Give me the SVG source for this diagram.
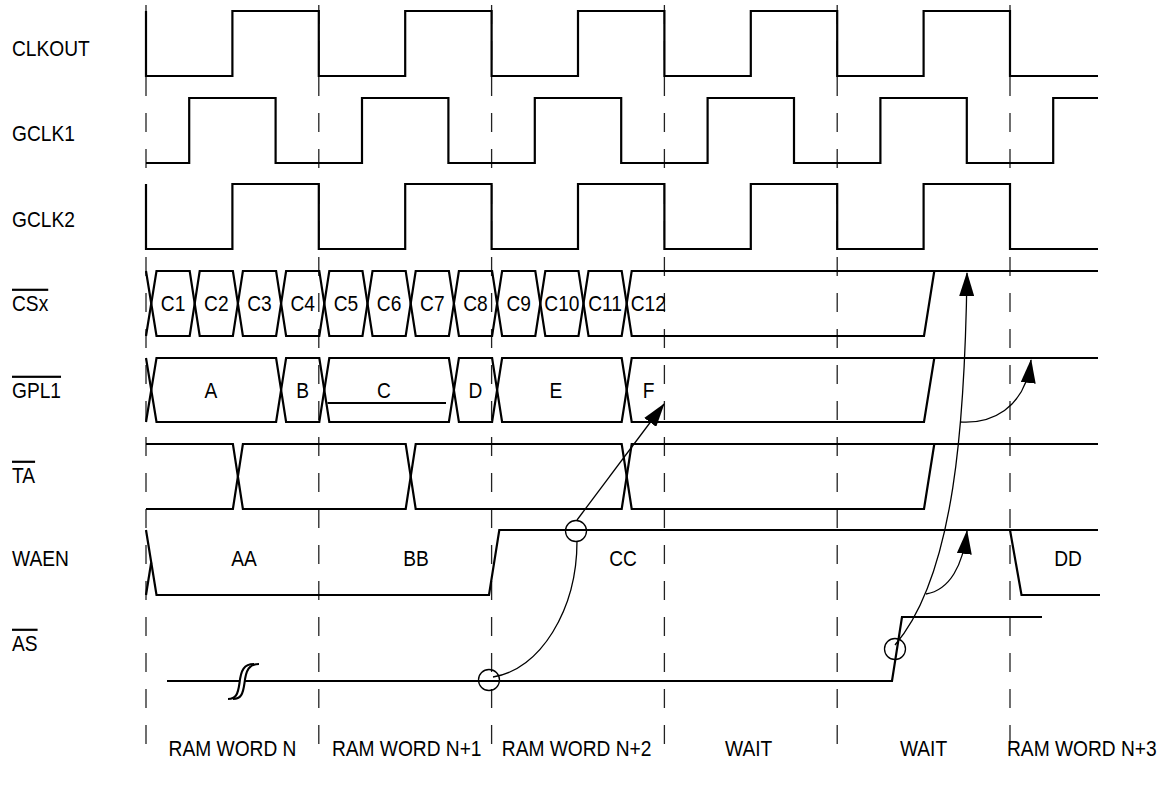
<svg xmlns="http://www.w3.org/2000/svg" width="1169" height="785" viewBox="0 0 1169 785">
<style>
.w{fill:none;stroke:#000;stroke-width:2.2;stroke-linejoin:miter}
.g{stroke:#222;stroke-width:1.3;stroke-dasharray:19 17;fill:none}
.t{font-family:"Liberation Sans",Arial,Helvetica,sans-serif;font-size:21.8px;fill:#000}
.m{text-anchor:middle}
.o{text-decoration:overline}
.c{fill:none;stroke:#000;stroke-width:1.3}
.b{fill:none;stroke:#000;stroke-width:2.1}
</style>
<defs>
<marker id="ah" markerUnits="userSpaceOnUse" markerWidth="24" markerHeight="15" viewBox="0 0 24 15" refX="23" refY="7.5" orient="auto"><path d="M0,0 L24,7.5 L0,15 z" fill="#000"/></marker>
</defs>
<rect width="1169" height="785" fill="#fff"/>

<g id="gridlines">
<line class="g" x1="146" y1="5" x2="146" y2="752"/>
<line class="g" x1="318.8" y1="5" x2="318.8" y2="752"/>
<line class="g" x1="491.6" y1="5" x2="491.6" y2="752"/>
<line class="g" x1="664.4" y1="5" x2="664.4" y2="752"/>
<line class="g" x1="837.2" y1="5" x2="837.2" y2="752"/>
<line class="g" x1="1010" y1="5" x2="1010" y2="752"/>
</g>

<g id="clkout">
<text class="t" transform="translate(12 56) scale(.88 1)">CLKOUT</text>
<path class="w" d="M146,11 V76 H232.4 V11 H318.8 V76 H405.2 V11 H491.6 V76 H578 V11 H664.4 V76 H750.8 V11 H837.2 V76 H923.6 V11 H1010 V76 H1098"/>
</g>

<g id="gclk1">
<text class="t" transform="translate(12 141) scale(.88 1)">GCLK1</text>
<path class="w" d="M146,163 H189.2 V98 H275.6 V163 H362 V98 H448.4 V163 H534.8 V98 H621.2 V163 H707.6 V98 H794 V163 H880.4 V98 H966.8 V163 H1053.2 V98 H1098"/>
</g>

<g id="gclk2">
<text class="t" transform="translate(12 227) scale(.88 1)">GCLK2</text>
<path class="w" d="M146,184 V249 H232.4 V184 H318.8 V249 H405.2 V184 H491.6 V249 H578 V184 H664.4 V249 H750.8 V184 H837.2 V249 H923.6 V184 H1010 V249 H1098"/>
</g>

<g id="csx">
<text class="t o" transform="translate(12 311) scale(.88 1)">CSx</text>
<path class="w" d="M146,271 L156.5,336 H189.7 L199.7,271 H232.9 L242.9,336 H276.1 L286.1,271 H319.3 L329.3,336 H362.5 L372.5,271 H405.7 L415.7,336 H448.9 L458.9,271 H492.1 L502.1,336 H535.3 L545.3,271 H578.5 L588.5,336 H621.7 L631.7,271 H1098"/>
<path class="w" d="M146,336 L156.5,271 H189.7 L199.7,336 H232.9 L242.9,271 H276.1 L286.1,336 H319.3 L329.3,271 H362.5 L372.5,336 H405.7 L415.7,271 H448.9 L458.9,336 H492.1 L502.1,271 H535.3 L545.3,336 H578.5 L588.5,271 H621.7 L631.7,336 H924 L934.3,271"/>
<text class="t m" transform="translate(173.1 311) scale(.88 1)">C1</text>
<text class="t m" transform="translate(216.3 311) scale(.88 1)">C2</text>
<text class="t m" transform="translate(259.5 311) scale(.88 1)">C3</text>
<text class="t m" transform="translate(302.7 311) scale(.88 1)">C4</text>
<text class="t m" transform="translate(345.9 311) scale(.88 1)">C5</text>
<text class="t m" transform="translate(389.1 311) scale(.88 1)">C6</text>
<text class="t m" transform="translate(432.3 311) scale(.88 1)">C7</text>
<text class="t m" transform="translate(475.5 311) scale(.88 1)">C8</text>
<text class="t m" transform="translate(518.7 311) scale(.88 1)">C9</text>
<text class="t m" transform="translate(561.9 311) scale(.88 1)">C10</text>
<text class="t m" transform="translate(605.1 311) scale(.88 1)">C11</text>
<text class="t m" transform="translate(648.3 311) scale(.88 1)">C12</text>
</g>

<g id="gpl1">
<text class="t o" transform="translate(12 398) scale(.88 1)">GPL1</text>
<path class="w" d="M146,358 L156.5,422 H276.1 L286.1,358 H319.3 L329.3,422 H448.9 L458.9,358 H492.1 L502.1,422 H621.7 L631.7,358 H1098"/>
<path class="w" d="M146,422 L156.5,358 H276.1 L286.1,422 H319.3 L329.3,358 H448.9 L458.9,422 H492.1 L502.1,358 H621.7 L631.7,422 H924 L934.3,358"/>
<path class="w" d="M327.5,403 H446"/>
<text class="t m" transform="translate(211 398) scale(.88 1)">A</text>
<text class="t m" transform="translate(302.7 398) scale(.88 1)">B</text>
<text class="t m" transform="translate(384 398) scale(.88 1)">C</text>
<text class="t m" transform="translate(475.5 398) scale(.88 1)">D</text>
<text class="t m" transform="translate(556 398) scale(.88 1)">E</text>
<text class="t m" transform="translate(648.6 398) scale(.88 1)">F</text>
</g>

<g id="ta">
<text class="t o" transform="translate(12 483) scale(.88 1)">TA</text>
<path class="w" d="M146,444 H232.9 L242.9,509 H405.7 L415.7,444 H621.7 L631.7,509 H924 L934.3,444"/>
<path class="w" d="M146,509 H232.9 L242.9,444 H405.7 L415.7,509 H621.7 L631.7,444 H1098"/>
</g>

<g id="waen">
<text class="t" transform="translate(12 566) scale(.88 1)">WAEN</text>
<path class="w" d="M146,530 L156.5,595 H489 L499.3,530 H1098"/>
<path class="w" d="M146,595 L151.2,562.5"/>
<path class="w" d="M1010,530 L1021.5,595 H1100"/>
<text class="t m" transform="translate(244 566) scale(.88 1)">AA</text>
<text class="t m" transform="translate(416 566) scale(.88 1)">BB</text>
<text class="t m" transform="translate(623 566) scale(.88 1)">CC</text>
<text class="t m" transform="translate(1068 566) scale(.88 1)">DD</text>
</g>

<g id="as">
<text class="t o" transform="translate(12 651) scale(.88 1)">AS</text>
<path class="w" d="M167,681 H239"/>
<path class="w" d="M244,681 H892 L902,617 H1042"/>
<path class="b" d="M228,699 C236,699 238,694 239.5,683 C241,670 244,664 254,664"/>
<path class="b" d="M233,699 C241,699 243,694 244.5,683 C246,670 249,664 259,664"/>
</g>

<g id="phases">
<text class="t m" transform="translate(232.5 756) scale(.88 1)">RAM WORD N</text>
<text class="t m" transform="translate(406.7 756) scale(.88 1)">RAM WORD N+1</text>
<text class="t m" transform="translate(576.6 756) scale(.88 1)">RAM WORD N+2</text>
<text class="t m" transform="translate(748.7 756) scale(.88 1)">WAIT</text>
<text class="t m" transform="translate(923.5 756) scale(.88 1)">WAIT</text>
<text class="t" transform="translate(1007 756) scale(.88 1)">RAM WORD N+3</text>
</g>

<g id="connectors">
<circle class="c" cx="489" cy="680" r="10.5"/>
<circle class="c" cx="576" cy="531" r="10.5"/>
<circle class="c" cx="895" cy="649" r="10.5"/>
<path class="c" d="M493,677 C540,670 577,610 577,541"/>
<path class="c" d="M577,520 L664,404" marker-end="url(#ah)"/>
<path class="c" d="M895,645 C955,575 965,420 967,273" marker-end="url(#ah)"/>
<path class="c" d="M960,422 C990,424 1025,410 1031,360" marker-end="url(#ah)"/>
<path class="c" d="M926,594 C950,590 963,565 967,531" marker-end="url(#ah)"/>
</g>
</svg>
